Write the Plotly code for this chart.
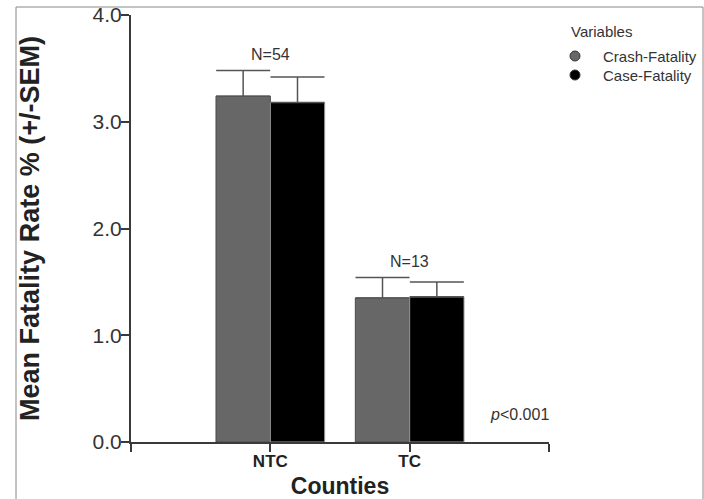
import plotly.graph_objects as go

categories = ["NTC", "TC"]
crash_fatality = [3.24, 1.35]
crash_sem = [0.24, 0.19]
case_fatality = [3.18, 1.36]
case_sem = [0.24, 0.14]
n_labels = ["N=54", "N=13"]
series_names = ["Crash-Fatality", "Case-Fatality"]
series_colors = ["#676767", "#000000"]
y_ticks = [0.0, 1.0, 2.0, 3.0, 4.0]
y_ticktext = ["0.0", "1.0", "2.0", "3.0", "4.0"]

FONT = "Liberation Sans, Arial, sans-serif"
xpos = list(range(len(categories)))

# plot area geometry (px) for paper-coordinate helpers
L, R, T, B, W, H = 131, 155, 15, 57, 704, 499
PW, PH = W - L - R, H - T - B


def px(x):
    return (x - L) / PW


def py(y):
    return (H - B - y) / PH


fig = go.Figure()
fig.add_trace(go.Bar(
    x=xpos, y=crash_fatality, name=series_names[0], showlegend=False,
    marker=dict(color=series_colors[0], line=dict(color="#4a4a4a", width=1)),
    error_y=dict(type="data", symmetric=False, array=crash_sem,
                 arrayminus=[0] * len(crash_sem), color="#555555",
                 thickness=1.5, width=27),
))
fig.add_trace(go.Bar(
    x=xpos, y=case_fatality, name=series_names[1], showlegend=False,
    marker=dict(color=series_colors[1], line=dict(color="#9a9a9a", width=1)),
    error_y=dict(type="data", symmetric=False, array=case_sem,
                 arrayminus=[0] * len(case_sem), color="#555555",
                 thickness=1.5, width=27),
))

# N labels above groups
for i, lab in enumerate(n_labels):
    top = max(crash_fatality[i] + crash_sem[i], case_fatality[i] + case_sem[i])
    fig.add_annotation(x=xpos[i], y=top, text=lab, showarrow=False, yshift=16,
                       font=dict(family=FONT, size=16, color="#333333"))

fig.add_annotation(x=1.785, y=0.253, text="<i>p</i><0.001", showarrow=False,
                   font=dict(family=FONT, size=16, color="#333333"))

# legend (drawn manually to match placement)
fig.add_annotation(xref="paper", yref="paper", x=px(569), y=py(31), text="Variables",
                   showarrow=False, xanchor="left", yanchor="middle",
                   font=dict(family=FONT, size=15, color="#333333"))
for k, (nm, col) in enumerate(zip(series_names, series_colors)):
    cy = 56 + 19 * k
    fig.add_shape(type="circle", xref="paper", yref="paper",
                  x0=px(570), x1=px(580), y0=py(cy + 5), y1=py(cy - 5),
                  fillcolor=col, line=dict(color="#333333", width=1))
    fig.add_annotation(xref="paper", yref="paper", x=px(601), y=py(cy), text=nm,
                       showarrow=False, xanchor="left", yanchor="middle",
                       font=dict(family=FONT, size=15, color="#333333"))

# outer frame
fig.add_shape(type="rect", xref="paper", yref="paper",
              x0=px(16), x1=px(703), y0=py(560), y1=py(7),
              line=dict(color="#888888", width=1))

fig.update_layout(
    width=W, height=H,
    margin=dict(l=L, r=R, t=T, b=B, autoexpand=False),
    paper_bgcolor="white", plot_bgcolor="white",
    barmode="group", bargap=0.22, bargroupgap=0,
    showlegend=False,
    font=dict(family=FONT, color="#222222"),
    xaxis=dict(range=[-1, 2], tickvals=[-1, 0, 1, 2],
               ticktext=[""] + ["<b>%s</b>" % c for c in categories] + [""],
               showline=True, linecolor="#3a3a3a", linewidth=2,
               ticks="outside", ticklen=8, tickcolor="#3a3a3a", tickwidth=2,
               ticklabelstandoff=-5,
               showgrid=False, zeroline=False, automargin=False,
               tickfont=dict(family=FONT, size=17, color="#222222"),
               title=dict(text="<b>Counties</b>", font=dict(family=FONT, size=23, color="#222222"),
                          standoff=14)),
    yaxis=dict(range=[0, 4], tickvals=y_ticks, ticktext=y_ticktext,
               showline=True, linecolor="#3a3a3a", linewidth=2,
               ticks="outside", ticklen=8, tickcolor="#3a3a3a", tickwidth=2,
               ticklabelstandoff=-5,
               showgrid=False, zeroline=False, automargin=False,
               tickfont=dict(family=FONT, size=21, color="#333333"),
               title=dict(text="<b>Mean Fatality Rate % (+/-SEM)</b>",
                          font=dict(family=FONT, size=27, color="#222222"), standoff=45)),
)

fig.write_html("out.html", config={"displayModeBar": False},
               post_script="document.body.style.margin='0';document.body.style.overflow='hidden';")
